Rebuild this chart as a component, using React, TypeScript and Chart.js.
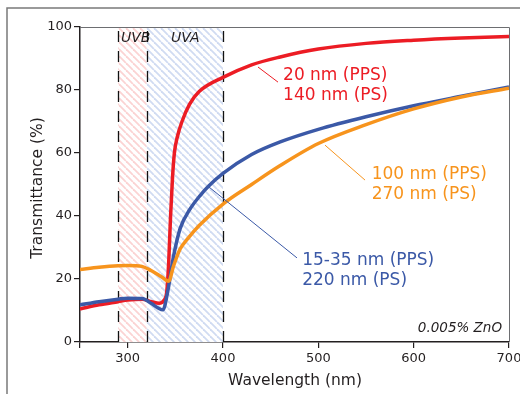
import React, { useEffect, useRef } from "react";
import { Chart, registerables } from "chart.js";

Chart.register(...registerables);

// ---- Data ----
const redWavelength = [250, 270, 290, 300, 315, 325, 333, 338, 341, 343, 345, 347, 349, 352, 357, 365, 375, 400, 430, 460, 500, 550, 600, 650, 700];
const redTransmittance = [10.5, 11.8, 12.8, 13.3, 13.6, 12.8, 12.3, 13.2, 16, 25, 40, 52, 60, 65, 70, 75.5, 79.5, 84, 88, 90.5, 93, 94.8, 95.8, 96.5, 97];

const blueWavelength = [250, 270, 290, 300, 315, 325, 332, 337, 342, 348, 355, 365, 376, 385, 400, 430, 460, 500, 550, 600, 650, 700];
const blueTransmittance = [11.8, 12.8, 13.6, 13.9, 13.8, 12.2, 10.8, 10.2, 16, 27, 36, 42, 46.5, 49.5, 53.5, 59.5, 63.5, 67.5, 71.5, 75, 78, 81];

const orangeWavelength = [250, 270, 290, 300, 315, 325, 335, 343, 348, 355, 363, 375, 400, 430, 460, 500, 550, 600, 650, 700];
const orangeTransmittance = [23, 23.7, 24.2, 24.3, 24, 22.6, 20.8, 19.3, 24, 29.5, 32.8, 37, 43.8, 50, 56, 63, 69, 74, 77.8, 80.6];

const xTickValues = [250, 300, 400, 500, 600, 700];
const yTickValues = [0, 20, 40, 60, 80, 100];

const uvbRange = [290, 320];
const uvaRange = [320, 400];
const bandLabels = ["UVB", "UVA"];

const redLabel = ["20 nm (PPS)", "140 nm (PS)"];
const orangeLabel = ["100 nm (PPS)", "270 nm (PS)"];
const blueLabel = ["15-35 nm (PPS)", "220 nm (PS)"];
const noteLabel = "0.005% ZnO";

const xTitle = "Wavelength (nm)";
const yTitle = "Transmittance (%)";

const RED = "#ec1c24";
const BLUE = "#3b59a7";
const ORANGE = "#f7941d";
const INK = "#231f20";
const FONT = "'DejaVu Sans', sans-serif";

function zip(xs: number[], ys: number[]) {
  return xs.map((x, i) => ({ x, y: ys[i] }));
}

function makePattern(ctx: CanvasRenderingContext2D, color: string) {
  const s = 7;
  const c = document.createElement("canvas");
  c.width = s;
  c.height = s;
  const p = c.getContext("2d")!;
  p.fillStyle = "#ffffff";
  p.fillRect(0, 0, s, s);
  p.strokeStyle = color;
  p.lineWidth = 1.8;
  for (const k of [-s, 0, s]) {
    p.beginPath();
    p.moveTo(k, 0);
    p.lineTo(k + s, s);
    p.stroke();
  }
  return ctx.createPattern(c, "repeat")!;
}

const bandsPlugin = {
  id: "bands",
  beforeDatasetsDraw(chart: any) {
    const { ctx, chartArea, scales } = chart;
    const { top, bottom } = chartArea;
    const x = scales.x;
    const y = scales.y;
    ctx.save();
    const pink = makePattern(ctx, "#fbd3d3");
    const blue = makePattern(ctx, "#d0dbf2");
    const ux0 = x.getPixelForValue(uvbRange[0]);
    const ux1 = x.getPixelForValue(uvbRange[1]);
    const ax0 = x.getPixelForValue(uvaRange[0]);
    const ax1 = x.getPixelForValue(uvaRange[1]);
    ctx.fillStyle = pink;
    ctx.fillRect(ux0, top, ux1 - ux0, bottom - top);
    ctx.fillStyle = blue;
    ctx.fillRect(ax0, top, ax1 - ax0, bottom - top);

    // labels
    ctx.fillStyle = INK;
    ctx.font = `italic 14px ${FONT}`;
    ctx.textBaseline = "middle";
    ctx.textAlign = "left";
    ctx.fillText(bandLabels[0], x.getPixelForValue(293), y.getPixelForValue(96.5));
    ctx.fillText(bandLabels[1], x.getPixelForValue(345.5), y.getPixelForValue(96.5));

    // dashed lines
    ctx.strokeStyle = "#111";
    ctx.lineWidth = 1.3;
    ctx.setLineDash([11, 9]);
    for (const v of [uvbRange[0], uvbRange[1], uvaRange[1]]) {
      const px = Math.round(x.getPixelForValue(v)) + 0.5;
      ctx.beginPath();
      ctx.moveTo(px, top + 4);
      ctx.lineTo(px, bottom);
      ctx.stroke();
    }
    ctx.restore();
  },
  afterDatasetsDraw(chart: any) {
    const { ctx, scales } = chart;
    const x = scales.x;
    const y = scales.y;
    const P = (a: number, b: number) => [x.getPixelForValue(a), y.getPixelForValue(b)];
    ctx.save();
    const leader = (c: string, a: number[], b: number[]) => {
      const [x0, y0] = P(a[0], a[1]);
      const [x1, y1] = P(b[0], b[1]);
      ctx.strokeStyle = c;
      ctx.lineWidth = 1;
      ctx.beginPath();
      ctx.moveTo(x0, y0);
      ctx.lineTo(x1, y1);
      ctx.stroke();
    };
    leader(RED, [436.7, 87.3], [457.7, 82.5]);
    leader(ORANGE, [507, 62.5], [549, 51.4]);
    leader(BLUE, [385.3, 49.2], [477.6, 26.7]);

    ctx.font = `17px ${FONT}`;
    ctx.textBaseline = "middle";
    ctx.textAlign = "left";
    const text = (c: string, lines: string[], lx: number, ty: number[]) => {
      ctx.fillStyle = c;
      lines.forEach((l, i) => {
        const [px, py] = P(lx, ty[i]);
        ctx.fillText(l, px, py);
      });
    };
    text(RED, redLabel, 463, [84.6, 78.3]);
    text(ORANGE, orangeLabel, 556, [53, 46.7]);
    text(BLUE, blueLabel, 483, [25.7, 19.5]);

    ctx.fillStyle = INK;
    ctx.font = `italic 13.5px ${FONT}`;
    ctx.textAlign = "right";
    const [nx, ny] = P(692.7, 4.3);
    ctx.fillText(noteLabel, nx, ny);
    ctx.restore();
  },
  afterDraw(chart: any) {
    const { ctx, chartArea } = chart;
    const { left, right, top, bottom } = chartArea;
    ctx.save();
    // plot frame (top/right)
    ctx.strokeStyle = "#6d6e71";
    ctx.lineWidth = 1;
    ctx.beginPath();
    ctx.moveTo(left, top + 0.5);
    ctx.lineTo(right + 0.5, top + 0.5);
    ctx.lineTo(right + 0.5, bottom);
    ctx.stroke();
    // outer figure frame
    ctx.strokeStyle = "#7a7a7a";
    ctx.lineWidth = 1.5;
    ctx.beginPath();
    ctx.moveTo(7, chart.height);
    ctx.lineTo(7, 8);
    ctx.lineTo(chart.width, 8);
    ctx.stroke();
    // axis titles
    ctx.fillStyle = INK;
    ctx.font = `15.5px ${FONT}`;
    ctx.textAlign = "center";
    ctx.textBaseline = "middle";
    ctx.fillText(xTitle, 295, 381);
    ctx.save();
    ctx.translate(38, 188);
    ctx.rotate(-Math.PI / 2);
    ctx.fillText(yTitle, 0, 0);
    ctx.restore();
    ctx.restore();
  },
};

export default function App() {
  const ref = useRef<HTMLCanvasElement | null>(null);
  useEffect(() => {
    document.body.style.margin = "0";
    const canvas = ref.current!;
    const chart = new Chart(canvas, {
      type: "line",
      data: {
        datasets: [
          {
            label: "red",
            data: zip(redWavelength, redTransmittance),
            borderColor: RED,
            borderWidth: 3.5,
            pointRadius: 0,
            cubicInterpolationMode: "monotone",
            order: 3,
          },
          {
            label: "blue",
            data: zip(blueWavelength, blueTransmittance),
            borderColor: BLUE,
            borderWidth: 3.5,
            pointRadius: 0,
            cubicInterpolationMode: "monotone",
            order: 2,
          },
          {
            label: "orange",
            data: zip(orangeWavelength, orangeTransmittance),
            borderColor: ORANGE,
            borderWidth: 3.5,
            pointRadius: 0,
            cubicInterpolationMode: "monotone",
            order: 1,
          },
        ],
      },
      options: {
        animation: false,
        responsive: false,
        maintainAspectRatio: false,
        layout: { padding: { top: 27, right: 11, left: 0, bottom: 0 } },
        plugins: { legend: { display: false }, tooltip: { enabled: false } },
        scales: {
          x: {
            type: "linear",
            min: 250,
            max: 700,
            afterBuildTicks: (s: any) => {
              s.ticks = xTickValues.map((v) => ({ value: v }));
            },
            afterFit: (s: any) => {
              s.height = 52;
              s.paddingLeft = 0;
              s.paddingRight = 0;
            },
            ticks: {
              autoSkip: false,
              maxRotation: 0,
              padding: 3,
              color: INK,
              font: { family: FONT, size: 13 },
              callback: (v: any) => (v === 250 ? "" : String(v)),
            },
            grid: { drawOnChartArea: false, drawTicks: true, tickLength: 6, color: INK, lineWidth: 1.2 },
            border: { display: true, color: INK, width: 1.5 },
          },
          y: {
            min: 0,
            max: 100,
            afterBuildTicks: (s: any) => {
              s.ticks = yTickValues.map((v) => ({ value: v }));
            },
            afterFit: (s: any) => {
              s.width = 80;
              s.paddingTop = 0;
              s.paddingBottom = 0;
            },
            ticks: {
              padding: 2,
              color: INK,
              font: { family: FONT, size: 13 },
            },
            grid: { drawOnChartArea: false, drawTicks: true, tickLength: 6, color: INK, lineWidth: 1.2 },
            border: { display: true, color: INK, width: 1.5 },
          },
        },
      },
      plugins: [bandsPlugin],
    } as any);
    return () => chart.destroy();
  }, []);
  return (
    <canvas ref={ref} width={520} height={394} style={{ display: "block", width: 520, height: 394 }} />
  );
}
